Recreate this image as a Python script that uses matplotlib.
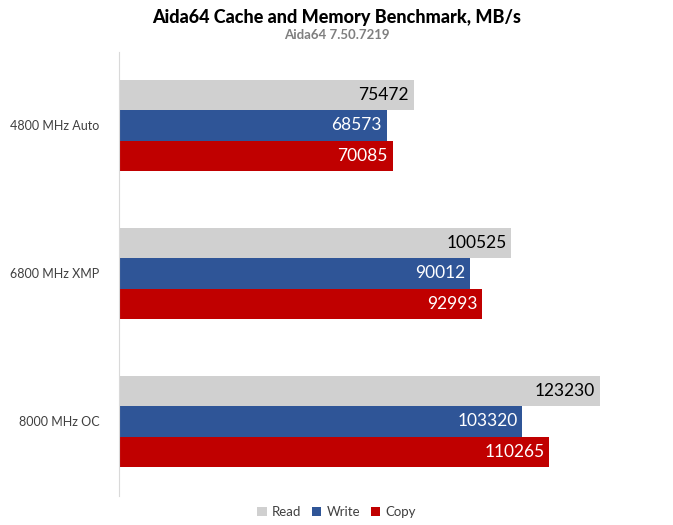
import numpy as np
import matplotlib.pyplot as plt

categories = ["4800 MHz Auto", "6800 MHz XMP", "8000 MHz OC"]
series = ["Read", "Write", "Copy"]
read_vals = [75472, 100525, 123230]
write_vals = [68573, 90012, 103320]
copy_vals = [70085, 92993, 110265]

colors = ["#D0D0D0", "#2F5597", "#C00000"]
text_colors = ["black", "white", "white"]

plt.rcParams['font.family'] = ['Lato', 'DejaVu Sans']

fig = plt.figure(figsize=(6.73, 5.25), dpi=100)
ax = fig.add_axes([119 / 673, 1 - 495.5 / 525, (665.5 - 119) / 673, (495.5 - 51.5) / 525])

y = np.arange(len(categories))
h = 0.206
all_vals = [read_vals, write_vals, copy_vals]
for i, (name, vals) in enumerate(zip(series, all_vals)):
    pos = y + (i - 1) * h
    bars = ax.barh(pos, vals, height=h, color=colors[i], label=name)
    for b, v in zip(bars, vals):
        ax.text(v - 1200, b.get_y() + h / 2, str(v), ha="right", va="center",
                fontsize=12.5, color=text_colors[i])

ax.set_xlim(0, 140000)
ax.set_ylim(2.5, -0.5)
ax.set_yticks(y)
ax.set_yticklabels(categories, fontsize=9, color="#404040")
ax.tick_params(axis="y", length=0, pad=14)
ax.set_xticks([])
for s in ["top", "right", "bottom"]:
    ax.spines[s].set_visible(False)
ax.spines["left"].set_color("#D9D9D9")

fig.text(0.5, 1 - 17 / 525, "Aida64 Cache and Memory Benchmark, MB/s", ha="center",
         va="center", fontsize=13, fontweight="black")
fig.text(0.5, 1 - 35 / 525, "Aida64 7.50.7219", ha="center", va="center",
         fontsize=9.5, fontweight="bold", color="#7F7F7F")

fig.legend(loc="center", bbox_to_anchor=(0.5, 1 - 512 / 525), ncol=3, frameon=False,
           fontsize=9.5, handlelength=0.7, handleheight=0.7, handletextpad=0.4,
           columnspacing=0.8, labelcolor="#404040")

fig.savefig("out.png", dpi=100)
